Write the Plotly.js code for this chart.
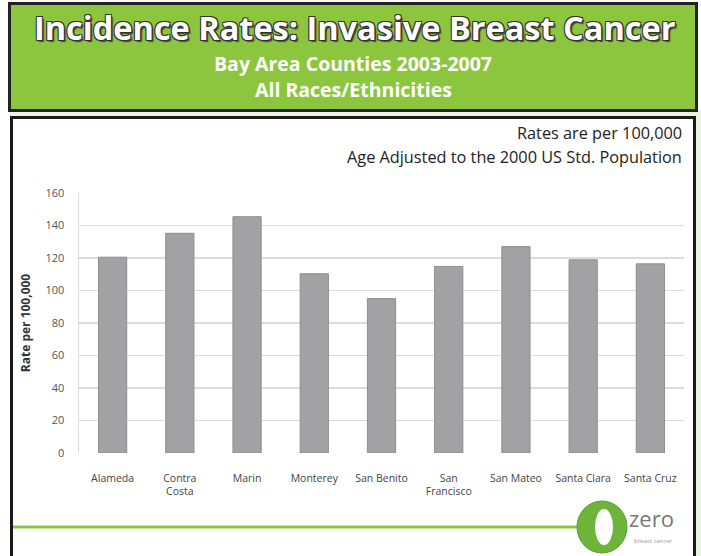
<!DOCTYPE html>
<html>
<head>
<meta charset="utf-8">
<script src="https://cdn.plot.ly/plotly-3.0.1.min.js"></script>
<style>html,body{margin:0;padding:0;background:#fff}#chart{width:701px;height:556px}</style>
</head>
<body>
<div id="chart"></div>
<script>
// ---- data ----
const counties = ['Alameda','Contra Costa','Marin','Monterey','San Benito','San Francisco','San Mateo','Santa Clara','Santa Cruz'];
const tickLabels = ['Alameda','Contra<br>Costa','Marin','Monterey','San Benito','San<br>Francisco','San Mateo','Santa Clara','Santa Cruz'];
const rates = [120.5, 135.2, 145.4, 110.3, 95.0, 114.8, 127.0, 118.9, 116.4];
const yTicks = [0,20,40,60,80,100,120,140,160];

const titleText = 'Incidence Rates: Invasive Breast Cancer';
const subtitle1 = 'Bay Area Counties 2003-2007';
const subtitle2 = 'All Races/Ethnicities';
const note1 = 'Rates are per 100,000';
const note2 = 'Age Adjusted to the 2000 US Std. Population';
const yTitle = 'Rate per 100,000';

// ---- layout geometry (pixels) ----
const W = 701, H = 556;
const M = {l: 79, r: 17, t: 193, b: 103};
const PW = W - M.l - M.r, PH = H - M.t - M.b;
const px = x => (x - M.l) / PW;
const py = y => (H - M.b - y) / PH;

const GREEN = '#8cc63f';
const shapes = [
  {type:'rect', xref:'paper', yref:'paper', x0:px(10), x1:px(701), y0:py(110), y1:py(118), fillcolor:'#e9f3dd', line:{width:0}, layer:'below'},
  {type:'rect', xref:'paper', yref:'paper', x0:px(695), x1:px(701), y0:py(110), y1:py(556), fillcolor:'#e9f3dd', line:{width:0}, layer:'below'},
  {type:'rect', xref:'paper', yref:'paper', x0:px(9.5), x1:px(696.5), y0:py(3.5), y1:py(110.5), fillcolor:GREEN, line:{color:'#222', width:3}, layer:'below'},
  {type:'rect', xref:'paper', yref:'paper', x0:px(11.5), x1:px(694.5), y0:py(117.5), y1:py(570), fillcolor:'#ffffff', line:{color:'#1a1a1a', width:3}, layer:'below'},
  {type:'line', xref:'paper', yref:'paper', x0:px(13), x1:px(578), y0:py(527), y1:py(527), line:{color:GREEN, width:3}},
  {type:'circle', xref:'paper', yref:'paper', x0:px(577), x1:px(627), y0:py(501), y1:py(553), fillcolor:'#6fb43a', line:{color:'#5a9e2e', width:1}},
  {type:'circle', xref:'paper', yref:'paper', x0:px(595), x1:px(613), y0:py(509), y1:py(545), fillcolor:'#ffffff', line:{width:0}}
];

const shadow = '-1px -1px 0 #333, 1px -1px 0 #333, -1px 1px 0 #333, 1px 1px 0 #333, 2px 2px 1px #444';
const annotations = [
  {text:titleText, xref:'paper', yref:'paper', x:px(355), y:py(27), xanchor:'center', yanchor:'middle', showarrow:false,
   font:{family:'Open Sans', size:32.5, color:'#ffffff', weight:700, shadow:shadow}},
  {text:subtitle1, xref:'paper', yref:'paper', x:px(353), y:py(63), xanchor:'center', yanchor:'middle', showarrow:false,
   font:{family:'Open Sans', size:19.5, color:'#ffffff', weight:700}},
  {text:subtitle2, xref:'paper', yref:'paper', x:px(353), y:py(89), xanchor:'center', yanchor:'middle', showarrow:false,
   font:{family:'Open Sans', size:19.5, color:'#ffffff', weight:700}},
  {text:note1, xref:'paper', yref:'paper', x:px(684), y:py(133), xanchor:'right', yanchor:'middle', showarrow:false,
   font:{family:'Open Sans', size:16.3, color:'#222'}},
  {text:note2, xref:'paper', yref:'paper', x:px(684), y:py(157), xanchor:'right', yanchor:'middle', showarrow:false,
   font:{family:'Open Sans', size:16.3, color:'#222'}},
  {text:'zero', xref:'paper', yref:'paper', x:px(627), y:py(518), xanchor:'left', yanchor:'middle', showarrow:false,
   font:{family:'Open Sans', size:22, color:'#777'}},
  {text:'breast cancer', xref:'paper', yref:'paper', x:px(632), y:py(541), xanchor:'left', yanchor:'middle', showarrow:false,
   font:{family:'Open Sans', size:6, color:'#999'}}
];

const trace = {
  type:'bar', x:counties, y:rates,
  marker:{color:'#a2a2a4', line:{color:'#8e8e90', width:1}},
  hoverinfo:'x+y'
};

const layout = {
  width:W, height:H,
  margin:M,
  paper_bgcolor:'#ffffff', plot_bgcolor:'rgba(0,0,0,0)',
  showlegend:false,
  bargap:0.58,
  xaxis:{type:'category', tickmode:'array', tickvals:counties, ticktext:tickLabels,
    showgrid:false, zeroline:false, showline:false, ticks:'', ticklabelstandoff:17,
    tickfont:{family:'Open Sans', size:10.5, color:'#444'}},
  yaxis:{range:[0,160], tickmode:'array', tickvals:yTicks, showgrid:true, gridcolor:'#dcdcdc', gridwidth:1.5,
    zeroline:false, showline:true, linecolor:'#dcdcdc', linewidth:1.5, ticks:'', ticklabelstandoff:11,
    tickfont:{family:'Open Sans', size:11, color:'#555'},
    title:{text:yTitle, standoff:12, font:{family:'Open Sans', size:12, color:'#333', weight:700}}},
  shapes:shapes,
  annotations:annotations
};

Plotly.newPlot('chart', [trace], layout, {displayModeBar:false, staticPlot:true});
</script>
</body>
</html>
